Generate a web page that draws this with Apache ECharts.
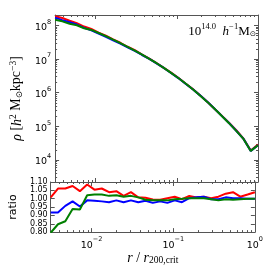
<!DOCTYPE html>
<html><head><meta charset="utf-8">
<script src="https://cdn.jsdelivr.net/npm/echarts@6/dist/echarts.min.js"></script>
<style>html,body{margin:0;padding:0;background:#fff}#c{width:266px;height:266px}</style>
</head><body><div id="c"></div>
<script>
// radius r / r200,crit (log-spaced bins)
const radius = [0.003162,0.003882,0.004771,0.005861,0.007197,0.008838,0.01085,0.01334,0.01638,0.02012,0.02471,0.03035,0.03728,0.04578,0.05623,0.06906,0.08483,0.1042,0.1280,0.1572,0.1931,0.2371,0.2913,0.3577,0.4394,0.5397,0.6629,0.8142,1.0];
// density profiles [h^2 Msun kpc^-3]
const densityRed = [1.877e8,1.658e8,1.382e8,1.161e8,9.25e7,7.82e7,6.13e7,4.95e7,3.85e7,3.05e7,2.32e7,1.831e7,1.360e7,1.029e7,7.56e6,5.50e6,3.95e6,2.78e6,1.873e6,1.279e6,8.33e5,5.37e5,3.35e5,2.08e5,1.282e5,7.65e4,4.28e4,1.909e4,2.86e4];
const densityBlue = [1.707e8,1.433e8,1.247e8,1.062e8,8.43e7,7.14e7,5.75e7,4.60e7,3.63e7,2.89e7,2.23e7,1.744e7,1.321e7,1.011e7,7.41e6,5.44e6,3.84e6,2.72e6,1.840e6,1.263e6,8.33e5,5.37e5,3.33e5,2.05e5,1.255e5,7.38e4,4.24e4,1.862e4,2.75e4];
const densityGreen = [1.482e8,1.324e8,1.127e8,1.013e8,8.27e7,7.36e7,5.97e7,4.79e7,3.77e7,2.98e7,2.31e7,1.792e7,1.360e7,1.017e7,7.52e6,5.47e6,3.90e6,2.74e6,1.877e6,1.263e6,8.28e5,5.33e5,3.33e5,2.04e5,1.241e5,7.32e4,4.22e4,1.860e4,2.75e4];
// ratios
const ratioRed = [1.008,1.061,1.061,1.076,1.045,1.085,1.054,1.061,1.039,1.045,1.017,1.039,1.008,1.006,0.995,0.994,1.003,1.012,0.997,1.016,1.008,1.012,1.003,1.012,1.030,1.039,1.012,1.025,1.039];
const ratioBlue = [0.917,0.917,0.957,0.984,0.953,0.990,0.988,0.984,0.979,0.990,0.979,0.990,0.979,0.988,0.975,0.984,0.975,0.990,0.979,1.003,1.008,1.012,0.997,0.997,1.008,1.003,1.003,1.000,0.999];
const ratioGreen = [0.796,0.847,0.865,0.939,0.935,1.021,1.025,1.025,1.017,1.021,1.012,1.017,1.008,0.994,0.990,0.990,0.990,0.997,0.999,1.003,1.003,1.003,0.997,0.990,0.997,0.994,0.997,0.999,0.999];
// ticks
const xMajorTicks = [0.01, 0.1, 1];
const xMinorTicks = [0.004,0.005,0.006,0.007,0.008,0.009,0.02,0.03,0.04,0.05,0.06,0.07,0.08,0.09,0.2,0.3,0.4,0.5,0.6,0.7,0.8,0.9];
const yMajorTicks = [1e4,1e5,1e6,1e7,1e8];
const yMinorTicks = [3e3,4e3,5e3,6e3,7e3,8e3,9e3,2e4,3e4,4e4,5e4,6e4,7e4,8e4,9e4,2e5,3e5,4e5,5e5,6e5,7e5,8e5,9e5,2e6,3e6,4e6,5e6,6e6,7e6,8e6,9e6,2e7,3e7,4e7,5e7,6e7,7e7,8e7,9e7,2e8];
const ratioTicks = [0.80,0.85,0.90,0.95,1.00,1.05,1.10];

const X_MIN = Math.pow(10,-2.5), X_MAX = 1;
const Y_MIN = Math.pow(10,3.345), Y_MAX = Math.pow(10,8.31);
const R_MIN = 0.80, R_MAX = 1.10;

const LINE = {color:'#555', width:1};
const SANS = 'DejaVu Sans';
const SERIF = 'Liberation Serif';
const powRich = {
  b:{fontSize:9.5, fontFamily:SANS, color:'#000', lineHeight:14, verticalAlign:'bottom'},
  s:{fontSize:6.5, fontFamily:SANS, color:'#000', lineHeight:8, verticalAlign:'top'}
};
function powFmt(v){ const e = Math.round(Math.log10(v)); return '{b|10}{s|' + (e<0?'\u2212'+(-e):e) + '}'; }

function xAx(grid, pos, ticks, len, opts){
  return Object.assign({
    type:'log', gridIndex:grid, position:pos, min:X_MIN, max:X_MAX,
    axisLine:{show:true, lineStyle:LINE},
    axisTick:{show:true, inside:true, length:len, customValues:ticks, lineStyle:LINE},
    axisLabel:{show:false}, splitLine:{show:false}, minorTick:{show:false}
  }, opts||{});
}
function yLogAx(grid, pos, ticks, len, opts){
  return Object.assign({
    type:'log', gridIndex:grid, position:pos, min:Y_MIN, max:Y_MAX,
    axisLine:{show:true, lineStyle:LINE},
    axisTick:{show:true, inside:true, length:len, customValues:ticks, lineStyle:LINE},
    axisLabel:{show:false}, splitLine:{show:false}, minorTick:{show:false}
  }, opts||{});
}
function yRatAx(pos, opts){
  return Object.assign({
    type:'value', gridIndex:1, position:pos, min:R_MIN, max:R_MAX, interval:0.05,
    axisLine:{show:true, lineStyle:LINE},
    axisTick:{show:true, inside:true, length:4, customValues:ratioTicks, lineStyle:LINE},
    axisLabel:{show:false}, splitLine:{show:false}
  }, opts||{});
}

const xAxis = [
  xAx(0,'bottom',xMajorTicks,4),
  xAx(0,'top',xMajorTicks,4),
  xAx(0,'bottom',xMinorTicks,2,{axisLine:{show:false}}),
  xAx(0,'top',xMinorTicks,2,{axisLine:{show:false}}),
  xAx(1,'bottom',xMajorTicks,4,{
    axisLabel:{show:true, customValues:xMajorTicks, formatter:powFmt, rich:powRich, margin:4, showMinLabel:true, showMaxLabel:true},
    name:'{i|r}{n| / }{i|r}{sub|200,crit}', nameLocation:'middle', nameGap:14,
    nameTextStyle:{rich:{
      i:{fontFamily:SERIF, fontStyle:'italic', fontSize:14, color:'#000', lineHeight:16, verticalAlign:'bottom'},
      n:{fontFamily:SERIF, fontSize:14, color:'#000', lineHeight:16, verticalAlign:'bottom'},
      sub:{fontFamily:SERIF, fontSize:9.5, color:'#000', lineHeight:9, verticalAlign:'bottom'}
    }}
  }),
  xAx(1,'top',xMajorTicks,4),
  xAx(1,'bottom',xMinorTicks,2,{axisLine:{show:false}}),
  xAx(1,'top',xMinorTicks,2,{axisLine:{show:false}})
];
const yAxis = [
  yLogAx(0,'left',yMajorTicks,4,{
    axisLabel:{show:true, customValues:yMajorTicks, formatter:powFmt, rich:powRich, margin:4},
    name:'{i|\u03c1} [{i|h}{sup|2} M{sub|\u2299}kpc{sup|\u22123}]', nameLocation:'middle', nameGap:25, nameRotate:90,
    nameTextStyle:{rich:{
      i:{fontFamily:SERIF, fontStyle:'italic', fontSize:14, color:'#000', lineHeight:16, verticalAlign:'bottom'},
      sup:{fontFamily:SERIF, fontSize:9.5, color:'#000', lineHeight:9, verticalAlign:'top'},
      sub:{fontFamily:'DejaVu Sans', fontSize:8.5, color:'#000', lineHeight:8, verticalAlign:'bottom'}
    }, fontFamily:SERIF, fontSize:14, color:'#000', lineHeight:16}
  }),
  yLogAx(0,'right',yMajorTicks,4),
  yLogAx(0,'left',yMinorTicks,2,{axisLine:{show:false}}),
  yLogAx(0,'right',yMinorTicks,2,{axisLine:{show:false}}),
  yRatAx('left',{
    axisLabel:{show:true, customValues:ratioTicks, interval:0, showMinLabel:true, showMaxLabel:true, hideOverlap:false,
      fontFamily:SANS, fontSize:8, lineHeight:8, color:'#000', margin:3, formatter:v=>Number(v).toFixed(2)},
    name:'ratio', nameLocation:'middle', nameGap:19, nameRotate:90,
    nameTextStyle:{fontFamily:SANS, fontSize:11, color:'#000'}
  }),
  yRatAx('right')
];

function pairs(ys){ return radius.map((r,i)=>[r, ys[i]]); }
function ln(name, color, data, xi, yi){
  return {name, type:'line', xAxisIndex:xi, yAxisIndex:yi, data, showSymbol:false, symbol:'none',
    lineStyle:{color, width:2}, itemStyle:{color}, animation:false, z:3};
}
const series = [
  ln('red', '#ff0000', pairs(densityRed), 0, 0),
  ln('blue', '#0000ff', pairs(densityBlue), 0, 0),
  ln('green', '#008000', pairs(densityGreen), 0, 0),
  ln('red ratio', '#ff0000', pairs(ratioRed), 4, 4),
  ln('blue ratio', '#0000ff', pairs(ratioBlue), 4, 4),
  ln('green ratio', '#008000', pairs(ratioGreen), 4, 4)
];

const chart = echarts.init(document.getElementById('c'), null, {renderer:'canvas'});
chart.setOption({
  animation:false,
  backgroundColor:'#fff',
  grid:[
    {left:44, top:15, width:214, height:167},
    {left:44, top:182, width:214, height:54}
  ],
  xAxis, yAxis, series,
  graphic:[{
    type:'text', right:10, top:22,
    style:{
      text:'{n|10}{sup|14.0}{n|  }{i|h}{sup|\u22121}{n|M}{sub|\u2299}',
      rich:{
        n:{fontFamily:SERIF, fontSize:13, fill:'#000', lineHeight:16, verticalAlign:'bottom'},
        i:{fontFamily:SERIF, fontStyle:'italic', fontSize:13, fill:'#000', lineHeight:16, verticalAlign:'bottom'},
        sup:{fontFamily:SERIF, fontSize:8.5, fill:'#000', lineHeight:9, verticalAlign:'top'},
        sub:{fontFamily:'DejaVu Sans', fontSize:7.5, fill:'#000', lineHeight:8, verticalAlign:'bottom'}
      }
    }
  }]
});
</script></body></html>
